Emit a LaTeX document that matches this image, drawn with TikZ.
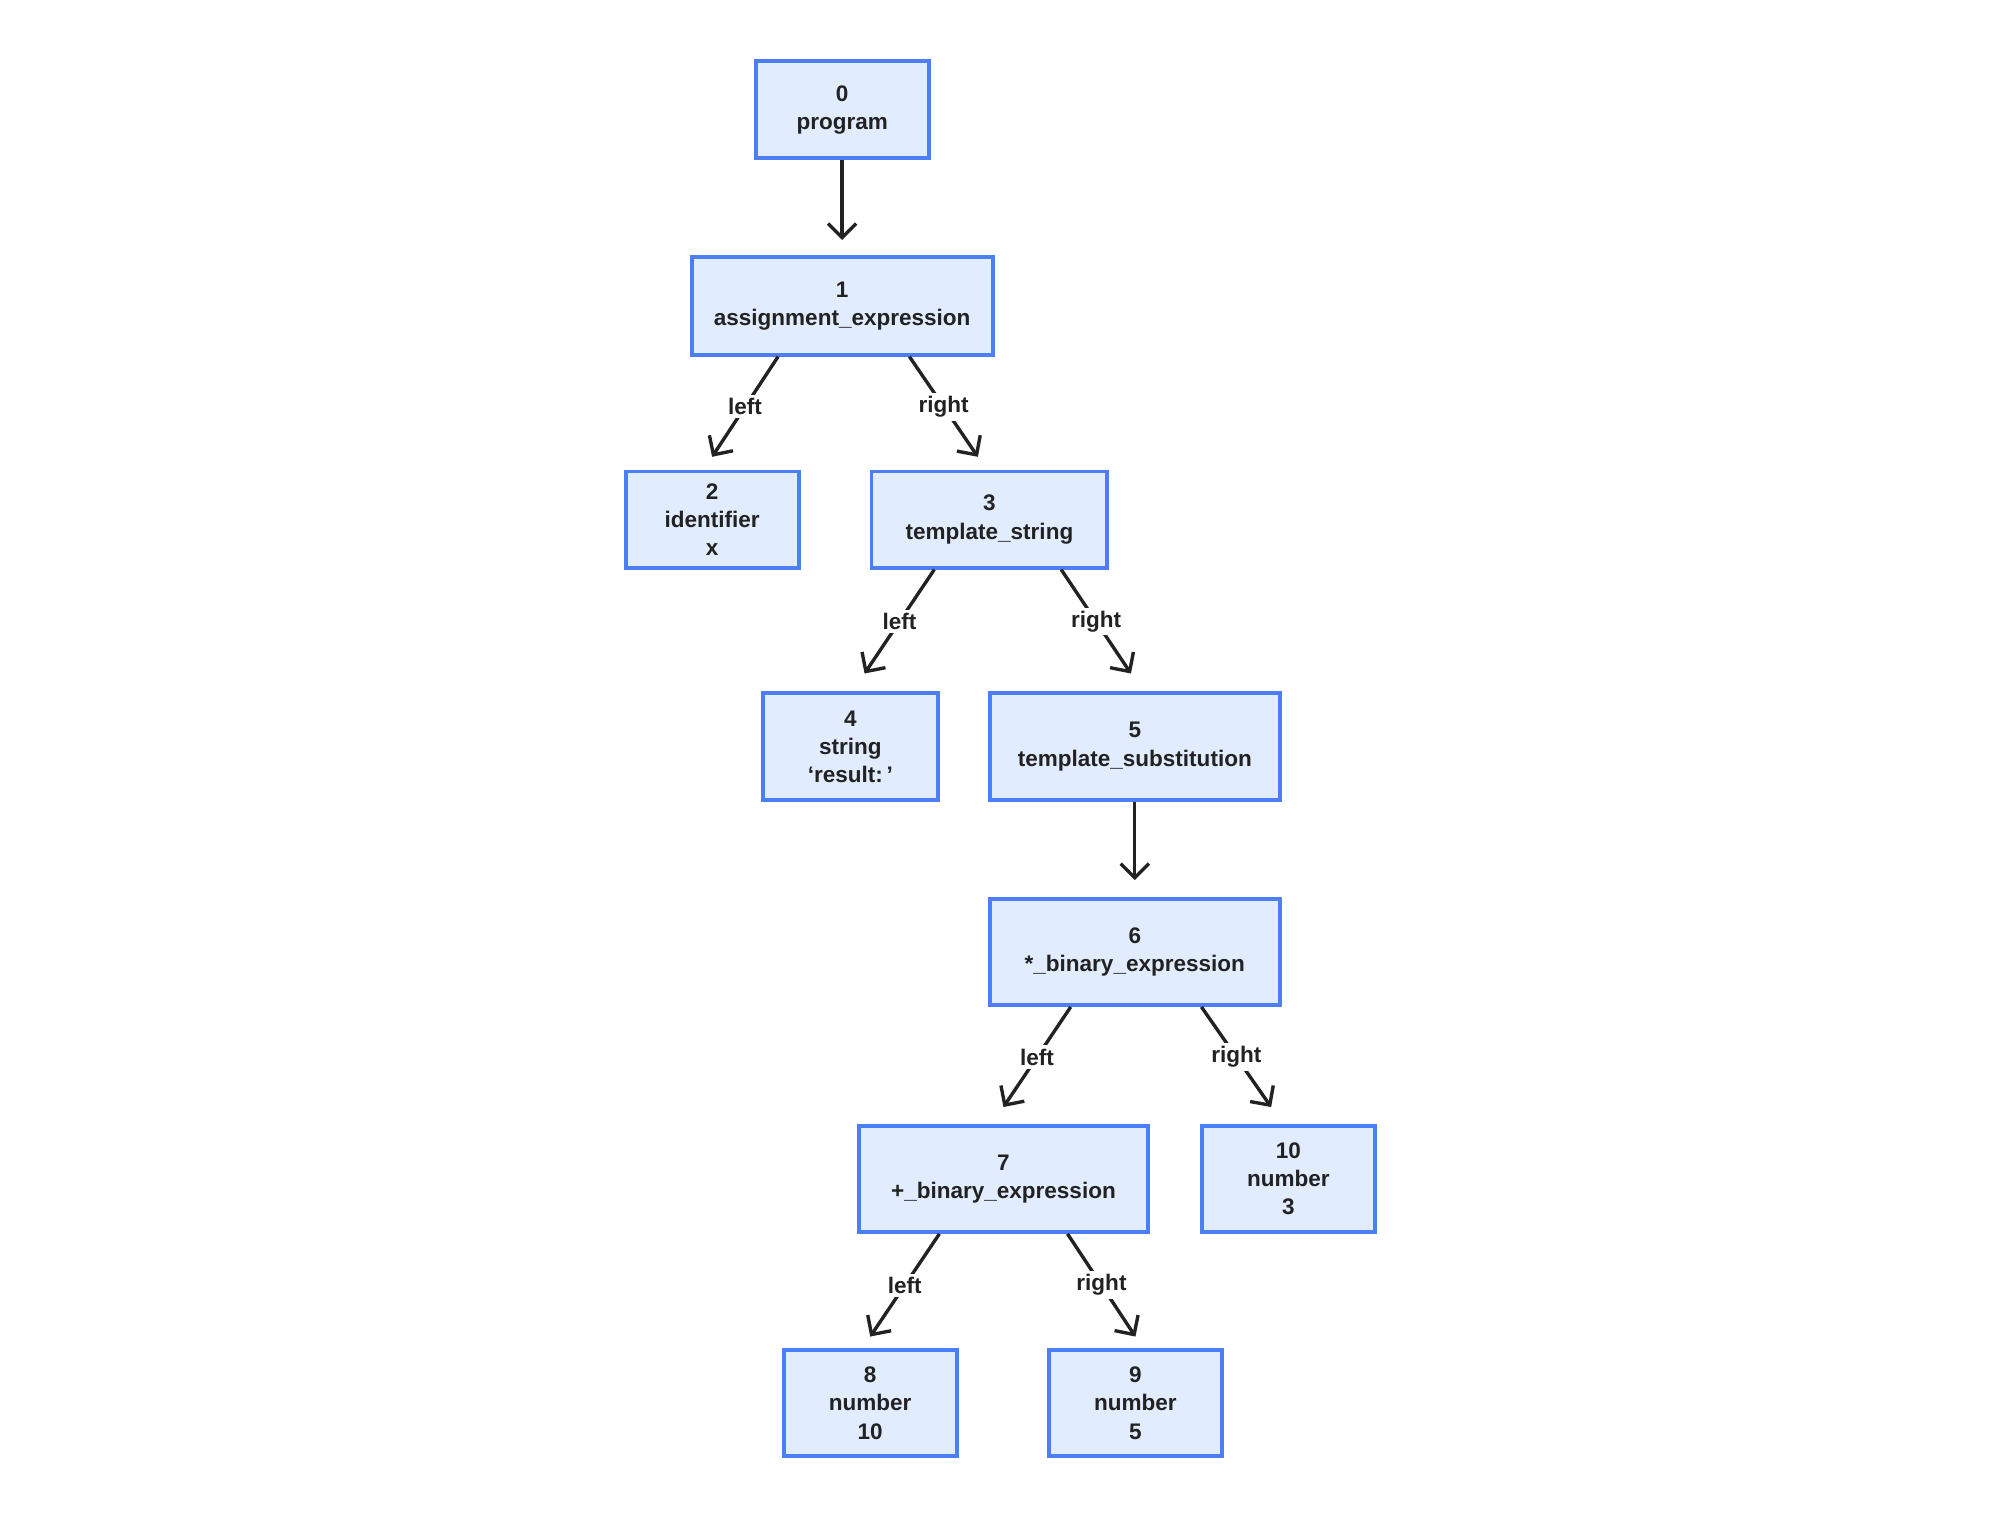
\documentclass[tikz,border=0pt]{standalone}
\usepackage{fontspec}
\setmainfont{Liberation Sans}
\usetikzlibrary{arrows.meta}
\definecolor{boxfill}{HTML}{E1ECFE}
\definecolor{boxline}{HTML}{4C7EF8}
\definecolor{ink}{HTML}{222222}
\tikzstyle{astnode}=[draw=boxline, fill=boxfill, line width=1.7pt, align=center, inner sep=0pt, text=ink, font=\bfseries\fontsize{10}{12.5}\selectfont]
\tikzstyle{edge}=[draw=ink, line width=1.5pt, -{Straight Barb[length=2.2mm, width=4.4mm, line width=1.5pt]}]
\tikzstyle{lbl}=[fill=white, inner sep=1.5pt, text=ink, font=\bfseries\fontsize{10}{12}\selectfont]

\begin{document}
\begin{tikzpicture}[x=0.199mm, y=-0.199mm]
        \useasboundingbox (0,0) rectangle (1567.8,1191.9);
        \node[astnode, minimum width=27mm, minimum height=15.2mm] (program) at (660.5,86) {0\\program};
        \node[astnode, minimum width=47mm, minimum height=15.2mm] (assign) at (660.5,240) {1\\assignment\_expression};
        \node[astnode, minimum width=27mm, minimum height=15mm] (ident) at (558.5,407.5) {2\\identifier\\x};
        \node[astnode, minimum width=36.8mm, minimum height=15mm] (tmplstr) at (776,407.5) {3\\template\_string};
        \node[astnode, minimum width=27.2mm, minimum height=16.6mm] (str) at (667,585.5) {4\\string\\‘result:\,’};
        \node[astnode, minimum width=45.2mm, minimum height=16.6mm] (subst) at (890,585.5) {5\\template\_substitution};
        \node[astnode, minimum width=45.2mm, minimum height=16.6mm] (mul) at (890,746.5) {6\\*\_binary\_expression};
        \node[astnode, minimum width=45.2mm, minimum height=16.6mm] (add) at (787,924.5) {7\\+\_binary\_expression};
        \node[astnode, minimum width=27mm, minimum height=16.6mm] (three) at (1010.5,924.5) {10\\number\\3};
        \node[astnode, minimum width=27mm, minimum height=16.6mm] (ten) at (682.5,1100.5) {8\\number\\10};
        \node[astnode, minimum width=27mm, minimum height=16.6mm] (five) at (890.5,1100.5) {9\\number\\5};

        \draw[edge] (program.south) -- ([yshift=2.4mm]assign.north);
        \draw[edge] ([xshift=-10mm]assign.south) -- ([yshift=2mm]ident.north) node[lbl, midway]{left};
        \draw[edge] ([xshift=10.5mm]assign.south) -- ([xshift=-1.8mm, yshift=2mm]tmplstr.north) node[lbl, midway]{right};
        \draw[edge] ([xshift=-8.6mm]tmplstr.south) -- ([xshift=2.2mm, yshift=2.8mm]str.north) node[lbl, midway]{left};
        \draw[edge] ([xshift=11.2mm]tmplstr.south) -- ([xshift=-0.6mm, yshift=2.8mm]subst.north) node[lbl, midway]{right};
        \draw[edge] (subst.south) -- ([yshift=2.6mm]mul.north);
        \draw[edge] ([xshift=-10mm]mul.south) -- ([yshift=2.6mm]add.north) node[lbl, midway]{left};
        \draw[edge] ([xshift=10.4mm]mul.south) -- ([xshift=-2.7mm, yshift=2.6mm]three.north) node[lbl, midway]{right};
        \draw[edge] ([xshift=-10mm]add.south) -- ([yshift=1.8mm]ten.north) node[lbl, midway]{left};
        \draw[edge] ([xshift=10mm]add.south) -- ([yshift=1.8mm]five.north) node[lbl, midway]{right};
    \end{tikzpicture}
\end{document}
